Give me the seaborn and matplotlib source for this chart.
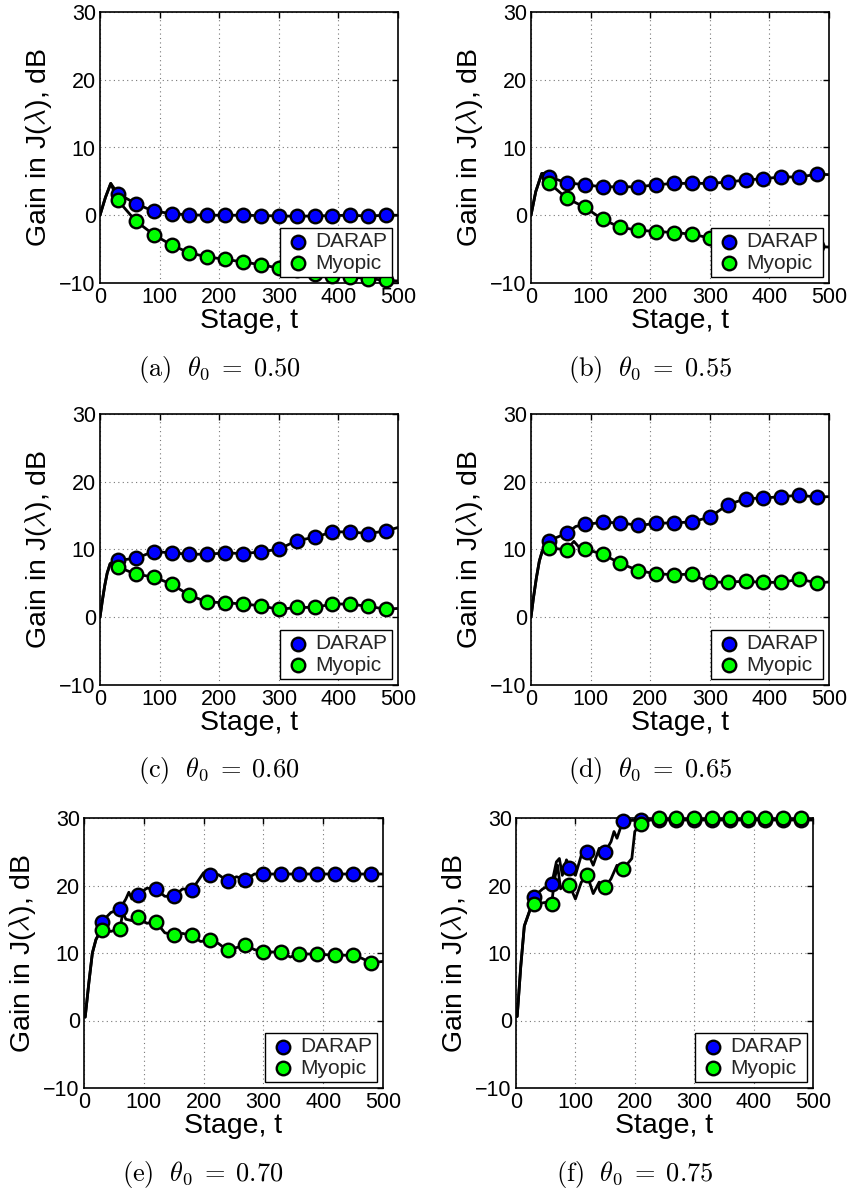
import numpy as np
import pandas as pd
import matplotlib
matplotlib.use("Agg")
import matplotlib.pyplot as plt
import seaborn as sns

# ---------------- data ----------------
T_MARK = [30, 60, 90, 120, 150, 180, 210, 240, 270, 300, 330, 360, 390, 420, 450, 480]
T_END = 500

# (a) theta0 = 0.50
A_RISE_T = [0, 9, 18]
A_RISE_Y = [0.0, 2.6, 4.7]
A_DARAP = [3.2, 1.7, 0.6, 0.25, 0.05, 0.0, 0.0, 0.0, -0.05, -0.1, -0.15, -0.1, -0.05, 0.0, -0.1, 0.0]
A_MYOPIC = [2.2, -0.85, -2.85, -4.4, -5.55, -6.15, -6.5, -6.9, -7.3, -7.8, -8.1, -8.6, -8.9, -9.1, -9.35, -9.6]
A_END = [0.0, -9.7]

# (b) theta0 = 0.55
B_RISE_T = [0, 8, 18, 24]
B_RISE_Y = [0.0, 3.5, 6.15, 6.2]
B_DARAP = [5.65, 4.8, 4.5, 4.2, 4.2, 4.2, 4.5, 4.7, 4.7, 4.7, 4.9, 5.2, 5.4, 5.65, 5.65, 6.05]
B_MYOPIC = [4.8, 2.5, 1.2, -0.6, -1.8, -2.2, -2.4, -2.55, -2.8, -3.35, -3.6, -3.8, -4.0, -4.2, -4.4, -4.6]
B_END = [6.0, -4.7]

# (c) theta0 = 0.60
C_RISE_T = [0, 4, 8, 12, 17, 24]
C_RISE_Y = [0.0, 2.5, 4.7, 6.5, 7.9, 8.3]
C_DARAP = [8.4, 8.7, 9.7, 9.5, 9.3, 9.3, 9.5, 9.4, 9.65, 10.05, 11.3, 11.8, 12.6, 12.6, 12.35, 12.75]
C_MYOPIC = [7.45, 6.35, 5.95, 4.9, 3.25, 2.25, 2.15, 1.95, 1.7, 1.15, 1.45, 1.45, 1.95, 1.95, 1.6, 1.2]
C_END = [13.25, 1.3]

# (d) theta0 = 0.65
D_RISE_T = [0, 4, 9, 14, 19, 25]
D_RISE_Y = [0.0, 2.8, 5.8, 8.3, 9.8, 10.3]
D_DARAP = [11.3, 12.4, 13.7, 14.0, 13.95, 13.55, 13.85, 13.95, 14.05, 14.8, 16.6, 17.5, 17.6, 17.8, 18.0, 17.75]
D_MYOPIC = [10.25, 9.95, 10.1, 9.3, 7.95, 6.9, 6.4, 6.3, 6.35, 5.15, 5.2, 5.3, 5.15, 5.15, 5.6, 5.1]
D_END = [17.8, 5.2]
D_DARAP_WIG_T = [75]
D_DARAP_WIG_Y = [13.4]
D_MYOPIC_WIG_T = [72, 80]
D_MYOPIC_WIG_Y = [11.2, 10.4]

# (e) theta0 = 0.70
E_RISE_T = [2, 8, 14, 20, 26]
E_RISE_Y = [0.5, 5.5, 10.0, 12.0, 13.0]
E_DARAP = [14.65, 16.5, 18.6, 19.5, 18.4, 19.3, 21.5, 20.65, 20.85, 21.7, 21.7, 21.7, 21.7, 21.7, 21.7, 21.7]
E_MYOPIC = [13.45, 13.6, 15.3, 14.65, 12.7, 12.6, 11.95, 10.4, 11.2, 10.2, 10.1, 9.9, 9.8, 9.7, 9.65, 8.55]
E_END = [21.7, 8.75]
E_DARAP_WIG_T = [45, 70, 75, 80, 105, 135, 165, 200, 225, 255, 285]
E_DARAP_WIG_Y = [16.0, 18.0, 19.0, 18.0, 19.6, 18.4, 19.5, 21.9, 21.6, 21.3, 21.7]
E_MYOPIC_WIG_T = [45, 65, 70, 80, 105, 135, 165, 195, 225, 255, 285, 345, 465]
E_MYOPIC_WIG_Y = [13.2, 16.0, 15.0, 14.8, 14.4, 13.0, 12.9, 11.7, 11.4, 10.8, 10.5, 9.4, 9.2]

# (f) theta0 = 0.75
F_RISE_T = [2, 8, 14, 18, 26]
F_RISE_Y = [0.6, 8.0, 14.0, 15.0, 17.0]
F_DARAP = [18.35, 20.2, 22.65, 25.0, 24.95, 29.6, 29.7, 29.7, 29.7, 29.7, 29.7, 29.7, 29.7, 29.7, 29.7, 29.7]
F_MYOPIC = [17.2, 17.25, 20.05, 21.5, 19.75, 22.4, 29.15, 29.95, 29.95, 29.95, 29.95, 29.95, 29.95, 29.95, 29.95, 29.95]
F_END = [29.7, 29.95]
F_DARAP_WIG_T = [45, 68, 73, 78, 85, 100, 110, 130, 140, 160, 165, 170]
F_DARAP_WIG_Y = [19.5, 23.5, 24.0, 21.5, 23.8, 21.5, 24.5, 23.0, 25.5, 26.5, 28.0, 27.0]
F_MYOPIC_WIG_T = [50, 65, 70, 75, 85, 100, 110, 130, 140, 160, 170, 175, 195, 200, 230]
F_MYOPIC_WIG_Y = [17.5, 21.0, 23.0, 19.5, 20.5, 18.0, 20.5, 18.8, 20.5, 21.0, 23.0, 22.0, 24.0, 28.0, 29.9]

PANELS = [
    ("a", "0.50", A_RISE_T, A_RISE_Y, A_DARAP, A_MYOPIC, A_END, [], [], [], []),
    ("b", "0.55", B_RISE_T, B_RISE_Y, B_DARAP, B_MYOPIC, B_END, [], [], [], []),
    ("c", "0.60", C_RISE_T, C_RISE_Y, C_DARAP, C_MYOPIC, C_END, [], [], [], []),
    ("d", "0.65", D_RISE_T, D_RISE_Y, D_DARAP, D_MYOPIC, D_END,
     D_DARAP_WIG_T, D_DARAP_WIG_Y, D_MYOPIC_WIG_T, D_MYOPIC_WIG_Y),
    ("e", "0.70", E_RISE_T, E_RISE_Y, E_DARAP, E_MYOPIC, E_END,
     E_DARAP_WIG_T, E_DARAP_WIG_Y, E_MYOPIC_WIG_T, E_MYOPIC_WIG_Y),
    ("f", "0.75", F_RISE_T, F_RISE_Y, F_DARAP, F_MYOPIC, F_END,
     F_DARAP_WIG_T, F_DARAP_WIG_Y, F_MYOPIC_WIG_T, F_MYOPIC_WIG_Y),
]

# ---------------- layout (pixels of an 850x1194 canvas) ----------------
W, H = 850, 1194
AX_PX = {  # left, top, right, bottom
    "a": (100, 12, 398, 283), "b": (531, 12, 829, 283),
    "c": (100, 414, 398, 685), "d": (531, 414, 829, 685),
    "e": (84, 818, 383, 1088), "f": (516, 818, 813, 1088),
}
CAP_PX = {"a": (219, 369), "b": (650, 369), "c": (219, 771), "d": (650, 771),
          "e": (203, 1174), "f": (635, 1174)}

sns.set_theme(style="white")
plt.rcParams["font.family"] = ["Liberation Sans", "DejaVu Sans"]
plt.rcParams["mathtext.fontset"] = "cm"
plt.rcParams["axes.unicode_minus"] = True

fig = plt.figure(figsize=(W / 100, H / 100), dpi=100)
fig.patch.set_facecolor("white")

BLUE = "#0000ff"
GREEN = "#00ff00"


def build_line(rise_t, rise_y, marks, end_y, wig_t, wig_y):
    t = list(rise_t) + list(T_MARK) + [T_END] + list(wig_t)
    y = list(rise_y) + list(marks) + [end_y] + list(wig_y)
    df = pd.DataFrame({"t": t, "y": y}).sort_values("t")
    return df


for (key, theta, rt, ry, dar, myo, end, dwt, dwy, mwt, mwy) in PANELS:
    l, t, r, b = AX_PX[key]
    ax = fig.add_axes([l / W, 1 - b / H, (r - l) / W, (b - t) / H])
    ax.set_facecolor("white")

    ld = build_line(rt, ry, dar, end[0], dwt, dwy)
    lm = build_line(rt, ry, myo, end[1], mwt, mwy)
    sns.lineplot(data=ld, x="t", y="y", ax=ax, color="black", lw=2.0,
                 estimator=None, sort=False, legend=False, zorder=2)
    sns.lineplot(data=lm, x="t", y="y", ax=ax, color="black", lw=2.0,
                 estimator=None, sort=False, legend=False, zorder=2)

    sns.scatterplot(x=T_MARK, y=dar, ax=ax, color=BLUE, s=95, edgecolor="black",
                    linewidth=1.7, label="DARAP", zorder=3, clip_on=False)
    sns.scatterplot(x=T_MARK, y=myo, ax=ax, color=GREEN, s=95, edgecolor="black",
                    linewidth=1.7, label="Myopic", zorder=4, clip_on=False)

    ax.set_xlim(0, 500)
    ax.set_ylim(-10, 30)
    ax.set_xticks([0, 100, 200, 300, 400, 500])
    ax.set_yticks([-10, 0, 10, 20, 30])
    ax.tick_params(direction="in", top=True, right=True, length=4, width=1,
                   labelsize=15.5, pad=3, colors="black")
    ax.grid(True, linestyle=(0, (1, 3)), color="#777777", linewidth=0.8)
    for sp in ax.spines.values():
        sp.set_color("black")
        sp.set_linewidth(1.2)
    ax.set_xlabel("Stage, t", fontsize=20.5, labelpad=0, color="black")
    ax.set_ylabel(r"Gain in J($\lambda$), dB", fontsize=20.5, labelpad=4, color="black")

    leg = ax.legend(loc="lower right", fontsize=15, frameon=True, fancybox=False,
                    framealpha=1, edgecolor="black", borderpad=0.2,
                    handletextpad=0.2, labelspacing=0.12, borderaxespad=0.3,
                    handlelength=1.3, markerscale=1.0)
    leg.get_frame().set_linewidth(1.0)
    leg.set_zorder(10)

    cx, cy = CAP_PX[key]
    fig.text(cx / W, 1 - cy / H,
             r"$\mathrm{(" + key + r")}\ \ \theta_0 \;=\; " + theta + r"$",
             ha="center", va="center", fontsize=19, color="black")

fig.savefig("out.png", dpi=100, facecolor="white")
